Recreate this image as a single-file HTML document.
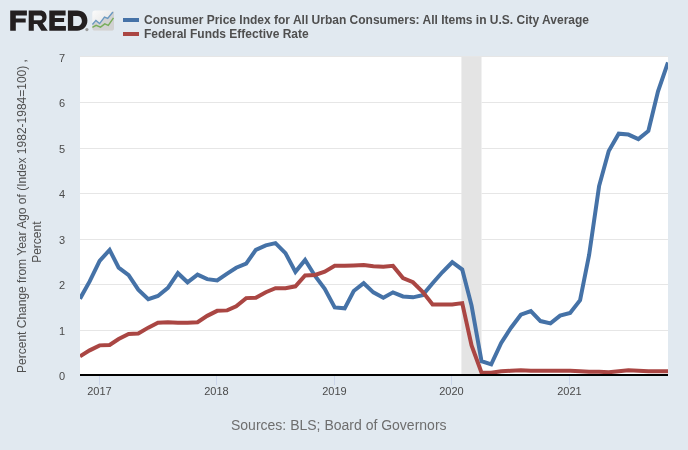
<!DOCTYPE html>
<html><head><meta charset="utf-8">
<style>
html,body{margin:0;padding:0;background:#e1e9f0;}
body{width:688px;height:450px;overflow:hidden;}
svg{display:block;font-family:"Liberation Sans",sans-serif;will-change:transform;}
</style></head><body>
<svg width="688" height="450" viewBox="0 0 688 450">
<defs>
<linearGradient id="ig" x1="0" y1="0" x2="1" y2="1">
<stop offset="0" stop-color="#fbfbfb"/><stop offset="1" stop-color="#dcdcdc"/>
</linearGradient>
<clipPath id="pc"><rect x="80" y="56" width="588" height="319"/></clipPath>
</defs>
<rect x="0" y="0" width="688" height="450" fill="#e1e9f0"/>
<!-- FRED logo -->
<g fill="#231f20">
<path d="M10.2 10.6 H26.9 V15.4 H15.8 V18.6 H25.7 V22.5 H15.8 V30.7 H10.2 Z"/>
<path d="M28.7 10.6 H40.3 C44.3 10.6 46.6 13.3 46.6 17.2 C46.6 20.2 45 22.3 42.6 23.2 L47.8 30.7 H41.4 L37.1 24 H33.8 V30.7 H28.7 Z M33.8 15.4 V20.2 H40 C41.6 20.2 42.3 19 42.3 17.8 C42.3 16.4 41.5 15.4 40 15.4 Z" fill-rule="evenodd"/>
<path d="M49.3 10.6 H65.6 V15.5 H54.8 V18.0 H64.1 V22.1 H54.8 V25.9 H65.9 V30.7 H49.3 Z"/>
<path d="M67.9 10.6 H77.2 C83.3 10.6 87.4 14.7 87.4 20.6 C87.4 26.5 83.3 30.7 77.2 30.7 H67.9 Z M73.2 16 V25.9 H77.2 C80 25.9 81.9 23.8 81.9 20.9 C81.9 18 80 16 77.2 16 Z" fill-rule="evenodd"/>
</g>
<circle cx="86.9" cy="29.6" r="1.6" fill="#9a9a9a"/>
<rect x="92.3" y="10.6" width="21.7" height="20" rx="2.8" fill="url(#ig)"/>
<path d="M92.4 24.5 L95.9 20.4 L99.6 23.6 L104.5 17 L107.7 18.4 L112.9 12 L114 11 L114 28 Q114 30.6 111.2 30.6 L95.1 30.6 Q92.3 30.6 92.3 28 Z" fill="#d2d2d2"/>
<polyline points="92.4,24.5 95.9,20.4 99.6,23.6 104.5,17 107.7,18.4 112.9,12" fill="none" stroke="#6a98c0" stroke-width="1.4"/>
<polyline points="92.4,27.4 96.1,25.3 100.5,27.1 104.8,23.9 108.3,25.3 113.5,17.8" fill="none" stroke="#78ad5a" stroke-width="1.4"/>
<!-- legend -->
<rect x="123" y="18" width="16" height="4" fill="#4572a7"/>
<rect x="123" y="32" width="16" height="4" fill="#aa4643"/>
<text x="144" y="24" font-size="12" font-weight="bold" fill="#4f4f4f">Consumer Price Index for All Urban Consumers: All Items in U.S. City Average</text>
<text x="144" y="38" font-size="12" font-weight="bold" fill="#4f4f4f">Federal Funds Effective Rate</text>
<!-- plot -->
<rect x="80" y="56" width="588" height="319" fill="#ffffff"/>
<rect x="461.4" y="56" width="20.1" height="319" fill="#e4e4e4"/>
<g fill="#e6e6e6">
<rect x="80" y="56" width="588" height="1"/>
<rect x="80" y="102" width="382" height="1"/><rect x="481.5" y="102" width="186.5" height="1"/>
<rect x="80" y="148" width="382" height="1"/><rect x="481.5" y="148" width="186.5" height="1"/>
<rect x="80" y="193" width="382" height="1"/><rect x="481.5" y="193" width="186.5" height="1"/>
<rect x="80" y="239" width="382" height="1"/><rect x="481.5" y="239" width="186.5" height="1"/>
<rect x="80" y="284" width="382" height="1"/><rect x="481.5" y="284" width="186.5" height="1"/>
<rect x="80" y="330" width="382" height="1"/><rect x="481.5" y="330" width="186.5" height="1"/>
</g>
<g clip-path="url(#pc)">
<path d="M80.00 298.71 L89.66 281.41 L99.64 260.87 L109.63 249.92 L118.64 267.73 L128.62 275.04 L138.28 289.63 L148.27 299.21 L157.93 295.99 L167.91 287.81 L177.89 273.18 L187.55 282.31 L197.54 274.59 L207.20 279.13 L217.18 280.50 L227.16 273.64 L236.18 267.73 L246.16 263.64 L255.82 249.92 L265.80 245.38 L275.46 243.11 L285.45 253.15 L295.43 271.82 L305.09 259.96 L315.07 275.95 L324.73 288.72 L334.71 307.39 L344.70 308.30 L353.71 290.99 L363.70 283.22 L373.36 292.35 L383.34 297.81 L393.00 292.35 L402.98 296.44 L412.96 297.35 L422.62 295.08 L432.61 283.22 L442.27 272.27 L452.25 262.23 L462.23 269.55 L471.57 305.57 L481.55 361.23 L491.21 364.41 L501.20 342.96 L510.86 327.93 L520.84 314.71 L530.82 311.03 L540.48 321.07 L550.46 323.38 L560.12 315.61 L570.11 312.89 L580.09 300.12 L589.11 254.96 L599.09 186.09 L608.75 150.98 L618.73 133.67 L628.39 134.58 L638.37 139.12 L648.36 130.94 L658.02 91.24 L668.00 62.52" fill="none" stroke="#4572a7" stroke-width="4" stroke-linejoin="miter" stroke-linecap="butt"/>
<path d="M80.00 356.27 L89.66 350.37 L99.64 345.37 L109.63 344.92 L118.64 339.01 L128.62 334.01 L138.28 333.56 L148.27 327.65 L157.93 322.66 L167.91 322.20 L177.89 322.66 L187.55 322.66 L197.54 322.20 L207.20 315.84 L217.18 310.84 L227.16 310.39 L236.18 306.30 L246.16 298.12 L255.82 297.67 L265.80 292.22 L275.46 288.13 L285.45 288.13 L295.43 286.31 L305.09 275.41 L315.07 274.95 L324.73 271.77 L334.71 265.87 L344.70 265.87 L353.71 265.41 L363.70 264.96 L373.36 266.32 L383.34 266.78 L393.00 265.87 L402.98 278.13 L412.96 282.22 L422.62 291.76 L432.61 304.48 L442.27 304.48 L452.25 304.48 L462.23 303.12 L471.57 345.37 L481.55 372.63 L491.21 372.63 L501.20 371.27 L510.86 370.81 L520.84 370.36 L530.82 370.81 L540.48 370.81 L550.46 370.81 L560.12 370.81 L570.11 370.81 L580.09 371.27 L589.11 371.72 L599.09 371.72 L608.75 372.17 L618.73 371.27 L628.39 370.36 L638.37 370.81 L648.36 371.27 L658.02 371.27 L668.00 371.27" fill="none" stroke="#aa4643" stroke-width="4" stroke-linejoin="miter" stroke-linecap="butt"/>
</g>
<rect x="80" y="374" width="588" height="2" fill="#000"/>
<g fill="#ccd6eb">
<rect x="99" y="376" width="1" height="9"/>
<rect x="216" y="376" width="1" height="9"/>
<rect x="334" y="376" width="1" height="9"/>
<rect x="451" y="376" width="1" height="9"/>
<rect x="569" y="376" width="1" height="9"/>
</g>
<g font-size="11" fill="#4a4a4a" text-anchor="middle">
<text x="99.5" y="395">2017</text>
<text x="216.5" y="395">2018</text>
<text x="334.5" y="395">2019</text>
<text x="451.5" y="395">2020</text>
<text x="569.5" y="395">2021</text>
</g>
<g font-size="11" fill="#4a4a4a" text-anchor="end">
<text x="65.2" y="62">7</text>
<text x="65.2" y="107">6</text>
<text x="65.2" y="153">5</text>
<text x="65.2" y="198">4</text>
<text x="65.2" y="244">3</text>
<text x="65.2" y="289">2</text>
<text x="65.2" y="335">1</text>
<text x="65.2" y="380">0</text>
</g>
<g font-size="12" fill="#505050" text-anchor="middle">
<text transform="translate(25.6 216) rotate(-90)">Percent Change from Year Ago of (Index 1982-1984=100) ,</text>
<text transform="translate(40.7 242.2) rotate(-90)">Percent</text>
</g>
<text x="231" y="430" font-size="14" fill="#6e6e6e">Sources: BLS; Board of Governors</text>
</svg>
</body></html>
